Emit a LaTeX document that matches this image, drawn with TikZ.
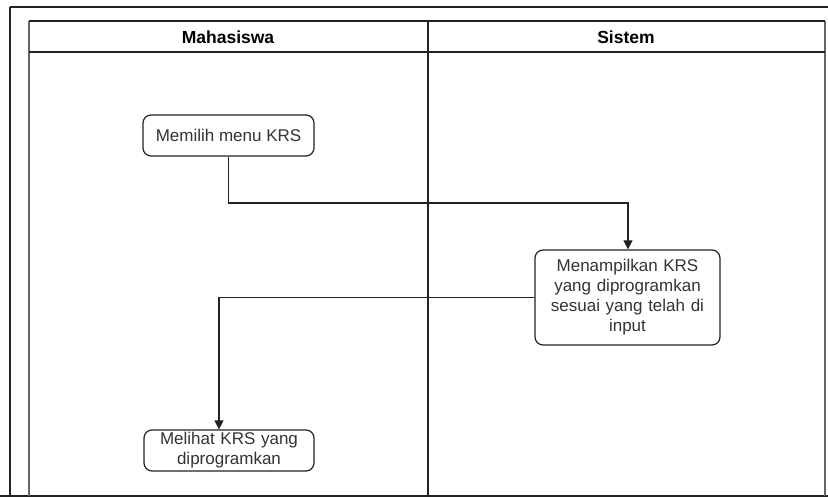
\documentclass[tikz,border=0pt]{standalone}
\usepackage{fontspec}
\setmainfont{Liberation Sans}
\usetikzlibrary{arrows.meta}
\definecolor{txt}{HTML}{333333}
\definecolor{ln}{HTML}{222222}
\tikzset{
  actbox/.style={draw=ln, line width=1.2pt, rounded corners=8pt, fill=white,
    text=txt, font=\fontsize{17}{20}\selectfont, align=center, inner sep=0pt},
  flow/.style={draw=ln, line width=1.1pt, -{Triangle[width=9pt,length=9pt]}},
  lane/.style={draw=ln, line width=1.6pt},
  hdr/.style={font=\bfseries\fontsize{17.5}{20}\selectfont, text=black}
}
\begin{document}
\begin{tikzpicture}[x=1pt,y=-1pt]
\useasboundingbox (0,0) rectangle (828,497);
\fill[white] (0,0) rectangle (828,497);
\begin{scope}
\clip (0,0) rectangle (828,497);
% outer frame
\draw[lane] (10,7) -- (840,7);
\draw[lane] (10,7) -- (10,496);
\draw[lane] (0,496) -- (840,496);
% swimlane
\draw[draw=gray!80!black, line width=1.8pt] (29,21) -- (29,496);
\draw[draw=gray!80!black, line width=1.8pt] (825,21) -- (825,496);
\draw[lane] (29,21) -- (825,21);
\draw[lane] (29,52) -- (825,52);
\draw[lane] (428,21) -- (428,496);
\end{scope}
\node[hdr] (h1) at (228,37) {Mahasiswa};
\node[hdr] (h2) at (626,37) {Sistem};
% activities
\node[actbox, minimum width=171pt, minimum height=41pt] (a1) at (228.5,135.5) {Memilih menu KRS};
\node[actbox, minimum width=185pt, minimum height=95pt, text width=178pt] (a2) at (627.5,297.5)
  {Menampilkan KRS\\yang diprogramkan\\sesuai yang telah di\\input};
\node[actbox, minimum width=170pt, minimum height=41pt, text width=170pt] (a3) at (229,450.5)
  {Melihat KRS yang\\diprogramkan};
% connectors
\draw[flow] (a1.south) |- (628,203) -- (a2.north -| 628,0);
\draw[flow] (a2.west) -| (a3.north -| 219,0);
\end{tikzpicture}
\end{document}
